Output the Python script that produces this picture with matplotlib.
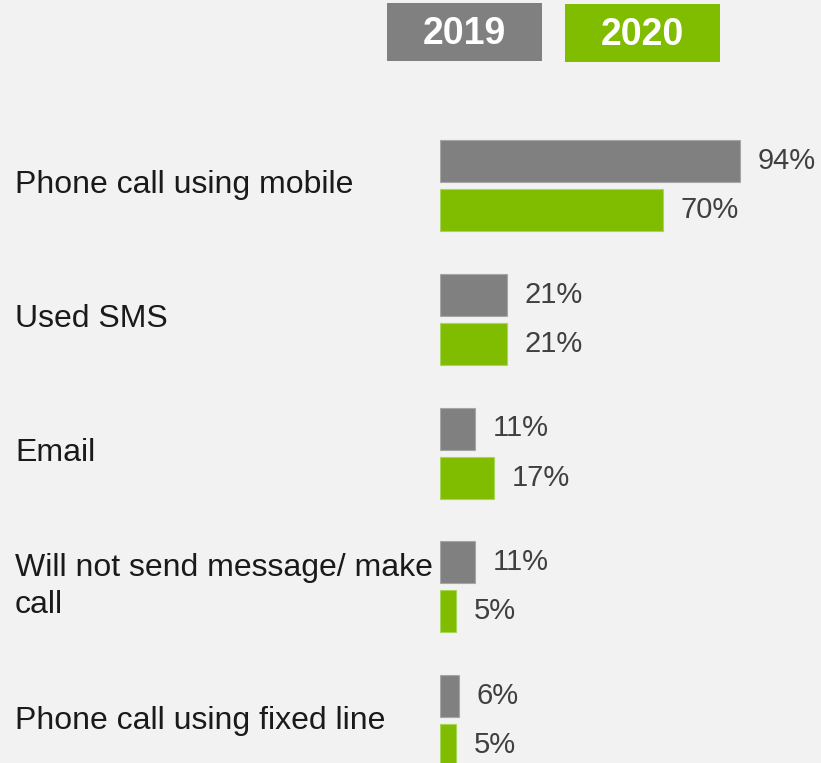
import matplotlib.pyplot as plt
from matplotlib.patches import Rectangle
import numpy as np

plt.rcParams['font.family'] = ['Liberation Sans', 'DejaVu Sans']

categories = ['Phone call using mobile', 'Used SMS', 'Email',
              'Will not send message/ make\ncall', 'Phone call using fixed line']
vals_2019 = [94, 21, 11, 11, 6]
vals_2020 = [70, 21, 17, 5, 5]
years = ['2019', '2020']

GREY = '#808080'
GREEN = '#80bc00'
BG = '#f2f2f2'

W, H = 821, 763
fig = plt.figure(figsize=(W / 100, H / 100), dpi=100)
fig.patch.set_facecolor(BG)

# axes spans from bar origin (x=440px) to the right edge
px_per_pct = 300 / 94
ax = fig.add_axes([440 / W, 0, 1 - 440 / W, 1])
ax.set_facecolor(BG)
ax.set_xlim(0, (W - 440) / px_per_pct)
grp = 133.75
top = 185.5
ax.set_ylim((H - top) / grp, -top / grp)
ax.axis('off')

y = np.arange(len(categories))
bh = 42 / grp
off = 24.5 / grp
ax.barh(y - off, vals_2019, height=bh, color=GREY, edgecolor='#a6a6a6', linewidth=0.8)
ax.barh(y + off, vals_2020, height=bh, color=GREEN, edgecolor='#a8d65a', linewidth=0.8)

for i in range(len(categories)):
    ax.annotate(f'{vals_2019[i]}%', (vals_2019[i], y[i] - off), xytext=(12.5, 0),
                textcoords='offset points', va='center', ha='left',
                fontsize=21, color='#404040')
    ax.annotate(f'{vals_2020[i]}%', (vals_2020[i], y[i] + off), xytext=(12.5, 0),
                textcoords='offset points', va='center', ha='left',
                fontsize=21, color='#404040')
    fig.text(15 / W, 1 - (top + i * grp) / H, categories[i], ha='left', va='center',
             fontsize=23, color='#1a1a1a', linespacing=1.3)

# legend boxes on top
boxes = [(387, 3, 155, 58, GREY), (565, 4, 155, 58, GREEN)]
for (bx, by, bw, bhh, c), yr in zip(boxes, years):
    fig.patches.append(Rectangle((bx / W, 1 - (by + bhh) / H), bw / W, bhh / H,
                                 transform=fig.transFigure, facecolor=c, edgecolor='none'))
    fig.text((bx + bw / 2) / W, 1 - (by + bhh / 2 + 2) / H, yr, ha='center', va='center',
             fontsize=27, fontweight='bold', color='white')

fig.savefig('out.png', dpi=100, facecolor=BG)
